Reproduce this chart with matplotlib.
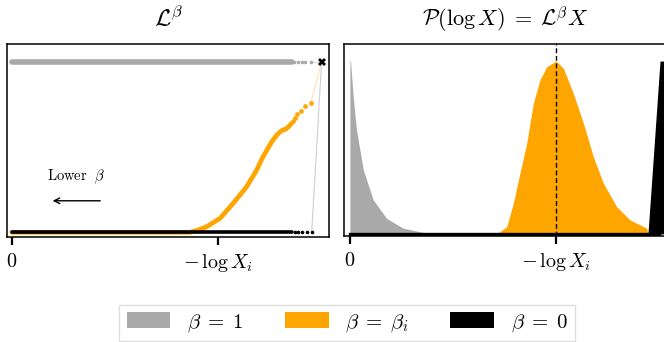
import matplotlib
matplotlib.use("Agg")
import matplotlib.pyplot as plt
from matplotlib.patches import Patch

plt.rcParams['mathtext.fontset'] = 'cm'
plt.rcParams['font.family'] = ['DejaVu Serif']

GREY = '#a9a9a9'
ORANGE = '#ffa500'

# left panel: normalised L^beta against -log X (tick "-log X_i" sits at 1.0)
grey_band_x = [0.0, 1.36]
grey_dots_x = [1.37, 1.388, 1.406, 1.422, 1.45]
black_band_x = [0.0, 1.36]
black_dots_x = [1.372, 1.39, 1.41, 1.43, 1.455]
orange_band_x = [0.0, 0.80, 0.864, 0.90, 0.945, 1.01, 1.074, 1.139, 1.188, 1.212,
                 1.228, 1.261, 1.285, 1.300, 1.315, 1.330, 1.345, 1.356]
orange_band_y = [0.0, 0.0, 0.0, 0.012, 0.033, 0.082, 0.17, 0.267, 0.365, 0.428,
                 0.463, 0.531, 0.570, 0.588, 0.600, 0.606, 0.622, 0.638]
orange_dots_x = [1.366, 1.374, 1.385, 1.401, 1.422, 1.451]
orange_dots_y = [0.652, 0.672, 0.692, 0.713, 0.740, 0.760]
final_x, final_y = 1.503, 1.0

# right panel: posterior mass in log X
grey_post_x = [0.0, 0.003, 0.016, 0.032, 0.065, 0.113, 0.178, 0.259, 0.356, 0.46]
grey_post_y = [1.0, 1.0, 0.79, 0.60, 0.37, 0.197, 0.09, 0.033, 0.008, 0.0]
orange_post_x = [0.70, 0.712, 0.761, 0.793, 0.825, 0.858, 0.89, 0.922, 0.955, 1.0,
                 1.036, 1.084, 1.133, 1.181, 1.23, 1.294, 1.359, 1.44, 1.447]
orange_post_y = [0.0, 0.0, 0.042, 0.177, 0.351, 0.524, 0.755, 0.89, 0.967, 1.0,
                 0.958, 0.813, 0.64, 0.447, 0.293, 0.158, 0.081, 0.033, 0.0]
black_post_x = [1.446, 1.448, 1.505, 1.56]
black_post_y = [0.0, 0.027, 1.0, 1.0]

tick_pos = [0, 1]
tick_labels = [r'$0$', r'$-\,\log X_i$']
legend_labels = [r'$\beta\;=\;1$', r'$\beta\;=\;\beta_i$', r'$\beta\;=\;0$']

fig = plt.figure(figsize=(6.64, 3.42), dpi=100)
ax1 = fig.add_axes([0.0105, 0.307, 0.485, 0.564])
ax2 = fig.add_axes([0.518, 0.310, 0.485, 0.561])

# left
ax1.plot([grey_dots_x[-1], final_x], [1.0, final_y], color='#d8d8d8', lw=0.8, zorder=1)
ax1.plot([orange_dots_x[-1], final_x], [orange_dots_y[-1], final_y], color='#ffe2b3', lw=0.8, zorder=1)
ax1.plot([black_dots_x[-1], final_x], [0.0, final_y], color='#d0d0d0', lw=0.8, zorder=1)
ax1.plot(grey_band_x, [1.0] * len(grey_band_x), color=GREY, lw=4, solid_capstyle='round', zorder=2)
ax1.plot(grey_dots_x, [1.0] * len(grey_dots_x), 'o', color=GREY, ms=2.6, mew=0, zorder=2)
ax1.plot(orange_band_x, orange_band_y, color=ORANGE, lw=3.4, solid_capstyle='round', zorder=3)
ax1.plot(orange_dots_x, orange_dots_y, 'o', color=ORANGE, ms=3.4, mew=0, zorder=3)
ax1.plot(black_band_x, [0.0] * len(black_band_x), color='black', lw=2.6, solid_capstyle='round', zorder=4)
ax1.plot(black_dots_x, [0.0] * len(black_dots_x), 'o', color='black', ms=2.6, mew=0, zorder=4)
ax1.plot([final_x], [final_y], 'X', color='black', ms=6, mew=0, zorder=5)
ax1.annotate('', xy=(0.184, 0.185), xytext=(0.442, 0.185),
             arrowprops=dict(arrowstyle='->', color='black', lw=1))
ax1.text(0.314, 0.326, r'$\mathrm{Lower}\ \ \beta$', ha='center', va='center', fontsize=10.5)
ax1.set_xlim(-0.024, 1.539)
ax1.set_ylim(-0.0275, 1.104)
ax1.set_title(r'$\mathcal{L}^\beta$', fontsize=17, pad=13)

# right
ax2.fill_between(grey_post_x, grey_post_y, color=GREY, lw=0, zorder=2)
ax2.fill_between(orange_post_x, orange_post_y, color=ORANGE, lw=0, zorder=2)
ax2.fill_between(black_post_x, black_post_y, color='black', lw=0, zorder=3)
ax2.plot([0.0, 1.5], [0.0, 0.0], color='black', lw=2.4, zorder=3)
ax2.axvline(1.0, color='black', lw=1, ls=(0, (3.5, 2)), zorder=4)
ax2.set_xlim(-0.029, 1.534)
ax2.set_ylim(-0.012, 1.098)
ax2.set_title(r'$\mathcal{P}(\log X) \;=\; \mathcal{L}^\beta X$', fontsize=16, pad=13)

for ax in (ax1, ax2):
    ax.set_yticks([])
    ax.set_xticks(tick_pos)
    ax.set_xticklabels(tick_labels, fontsize=14.5)
    ax.tick_params(axis='x', length=6, width=1.6, pad=5)
    for s in ax.spines.values():
        s.set_linewidth(1.1)

handles = [Patch(facecolor=c, edgecolor='none') for c in (GREY, ORANGE, 'black')]
leg = fig.legend(handles, legend_labels, loc='center', bbox_to_anchor=(0.523, 0.056),
                 ncol=3, fontsize=15, frameon=True, fancybox=False,
                 handlelength=2.1, handleheight=0.75, handletextpad=0.8,
                 columnspacing=2.0, borderpad=0.35)
leg.get_frame().set_edgecolor('#d6d6d6')
leg.get_frame().set_linewidth(1)

fig.savefig('out.png', dpi=100)
